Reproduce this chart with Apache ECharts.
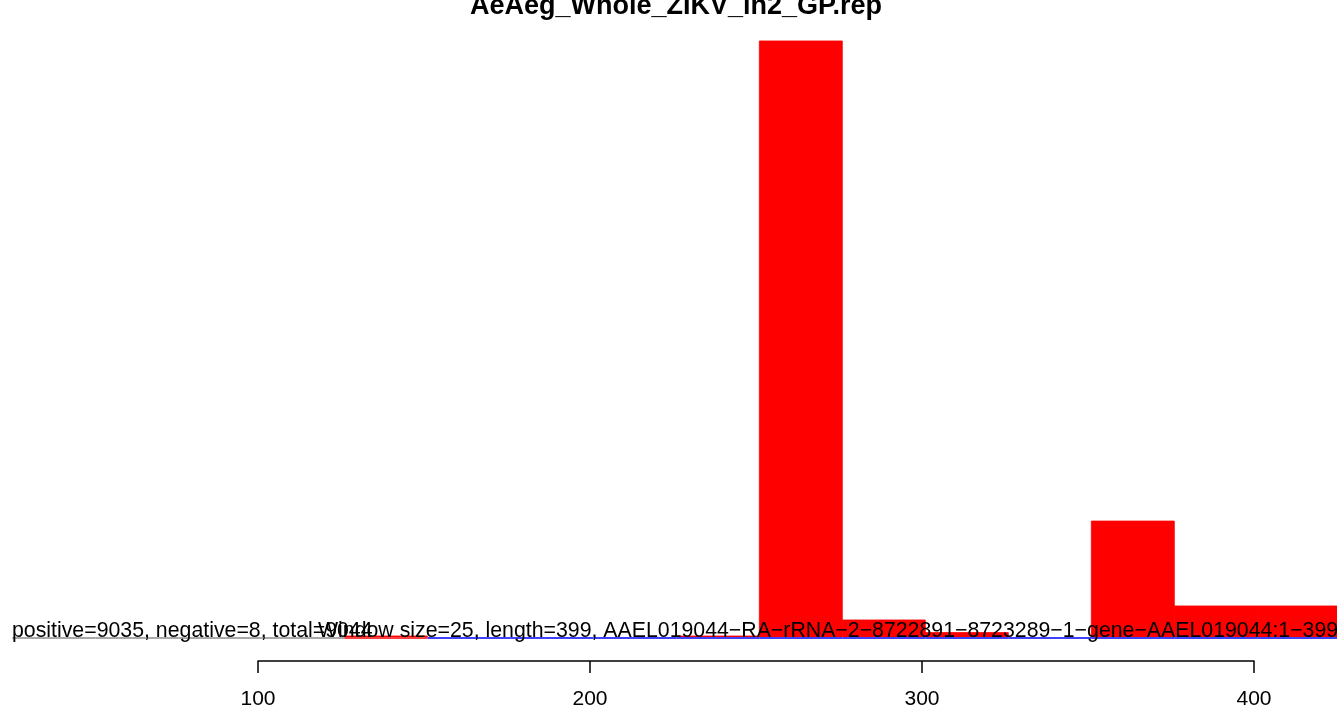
<!DOCTYPE html>
<html><head><meta charset="utf-8">
<script src="https://cdn.jsdelivr.net/npm/echarts@6/dist/echarts.min.js"></script>
<style>html,body{margin:0;padding:0;background:#fff;overflow:hidden}#c{width:1337px;height:708px}</style>
</head><body><div id="c"></div>
<script>
// ---- data ----
const titleText = 'AeAeg_Whole_ZIKV_in2_GP.rep';
const statsText = 'positive=9035, negative=8, total=9044';
const infoText = 'Window size=25, length=399, AAEL019044\u2212RA\u2212rRNA\u22122\u22128722891\u22128723289\u22121\u2212gene\u2212AAEL019044:1\u2212399';
const windowSize = 25;
const windowStarts = [26, 51, 76, 101, 126, 151, 176, 201, 226, 251, 276, 301, 326, 351, 376, 401];
const positiveCounts = [0, 0, 0, 0, 11, 0, 0, 0, 11, 6760, 193, 50, 0, 1315, 352, 352];
const baselineColorKeys = ['grey', 'grey', 'grey', 'grey', 'red', 'blue', 'blue', 'blue', 'blue', 'blue', 'blue', 'blue', 'blue', 'blue', 'blue', 'blue'];
const tickValues = [100, 200, 300, 400];

// ---- chart ----
const colorMap = { grey: '#8c8c8c', red: '#ff0000', blue: '#0000ff' };
const FONT = '"Liberation Sans", Arial, Helvetica, sans-serif';
const barData = windowStarts.map((s, i) => [s, s + windowSize, positiveCounts[i]]);
const baseData = windowStarts.map((s, i) => [s, s + windowSize, i]);

const chart = echarts.init(document.getElementById('c'), null, { renderer: 'canvas' });
chart.setOption({
  animation: false,
  backgroundColor: '#ffffff',
  grid: [
    { left: 0, right: 0, top: 19.8, bottom: 71 },
    { left: 258, right: 83, top: 661, height: 0 }
  ],
  xAxis: [
    { type: 'value', gridIndex: 0, min: 100 - 258 / 3.32, max: 425, show: false },
    { type: 'value', gridIndex: 1, min: tickValues[0], max: tickValues[tickValues.length - 1], interval: 100,
      axisLine: { show: true, lineStyle: { color: '#000', width: 1.5 } },
      axisTick: { show: true, inside: false, length: 12, lineStyle: { color: '#000', width: 1.5 } },
      axisLabel: { show: true, color: '#000', fontSize: 21, fontFamily: FONT, margin: 28 },
      splitLine: { show: false } }
  ],
  yAxis: [
    { type: 'value', gridIndex: 0, min: 0, max: 7000, show: false },
    { type: 'value', gridIndex: 1, show: false }
  ],
  series: [
    {
      type: 'custom', xAxisIndex: 0, yAxisIndex: 0, clip: true, z: 2,
      data: barData,
      renderItem: function (params, api) {
        if (!(api.value(2) > 0)) return null;
        const p0 = api.coord([api.value(0), api.value(2)]);
        const p1 = api.coord([api.value(1), 0]);
        return { type: 'rect', shape: { x: p0[0], y: p0[1], width: p1[0] - p0[0], height: p1[1] - p0[1] },
          style: { fill: '#ff0000', stroke: '#ff0000', lineWidth: 0.8 } };
      }
    },
    {
      type: 'custom', xAxisIndex: 0, yAxisIndex: 0, clip: false, z: 3,
      data: baseData,
      renderItem: function (params, api) {
        const p0 = api.coord([api.value(0), 0]);
        const p1 = api.coord([api.value(1), 0]);
        const key = baselineColorKeys[api.value(2)];
        return { type: 'line', shape: { x1: p0[0], y1: p0[1] + 1, x2: p1[0], y2: p1[1] + 1 },
          style: { stroke: colorMap[key], lineWidth: 1.6 } };
      }
    }
  ],
  graphic: [
    { type: 'text', z: 10, style: { text: titleText, font: 'bold 27px ' + FONT, fill: '#000', x: 676, y: 6.5, align: 'center', verticalAlign: 'middle' } },
    { type: 'text', z: 10, style: { text: statsText, font: '21.3px ' + FONT, fill: '#000', x: 12, y: 631.5, align: 'left', verticalAlign: 'middle' } },
    { type: 'text', z: 10, style: { text: infoText, font: '21.3px ' + FONT, fill: '#000', x: 318, y: 631.5, align: 'left', verticalAlign: 'middle' } }
  ]
});
</script>
</body></html>
